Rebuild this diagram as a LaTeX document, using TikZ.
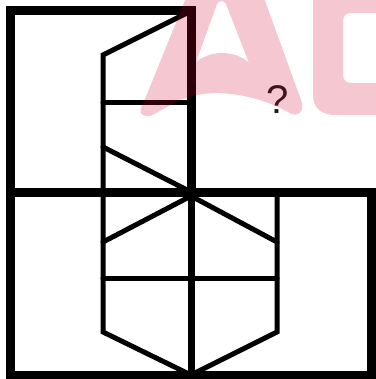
\documentclass[tikz,border=0pt]{standalone}
\usepackage{fontspec}
\setmainfont{Liberation Sans}
\tikzset{
  frame/.style={line width=9pt,line cap=rect},
  axis/.style={line width=7pt},
  edge/.style={line width=5pt,line cap=round,line join=miter},
  watermark/.style={fill={rgb,255:red,205;green,0;blue,45},fill opacity=0.22,even odd rule}
}
\begin{document}
\begin{tikzpicture}[x=1pt,y=-1pt]
  \useasboundingbox (0,0) rectangle (375,379);
  % key points of the figure
  \coordinate (tl) at (10,11);
  \coordinate (tr) at (191,11);
  \coordinate (ml) at (10,192);
  \coordinate (mm) at (191,192);
  \coordinate (mr) at (371,192);
  \coordinate (bl) at (10,375);
  \coordinate (bm) at (191,375);
  \coordinate (br) at (371,375);
  % upper left frame
  \draw[frame] (ml) -- (tl) -- (tr) -- (mm);
  % lower frame
  \draw[frame] (ml) -- (mr) -- (br) -- (bl) -- cycle;
  \draw[axis] (mm) -- (bm);
  % upper half of the figure
  \draw[edge] (tr) -- (103,55) -- (103,192);
  \draw[edge] (103,103) -- (191,103);
  \draw[edge] (103,147) -- (mm);
  % lower half of the figure
  \draw[edge] (103,192) -- (103,332) -- (bm) -- (277,332) -- (277,192);
  \draw[edge] (103,242) -- (191,196) -- (277,242);
  \draw[edge] (103,278) -- (277,278);
  \node[text=black!90,font=\fontsize{40}{40}\selectfont,inner sep=0pt] (qmark) at (278,100) {?};
  % watermark letters
  \fill[watermark]
     (150,116) .. controls (140,117) and (138,110) .. (143,104) -- (186,-2) -- (264,-2)
     -- (301,100) .. controls (306,113) and (296,118) .. (288,112)
     .. controls (262,98) and (225,88) .. (192,96) .. controls (172,102) and (160,112) .. (150,116) -- cycle
     (196,62) -- (217,4) .. controls (219,0) and (224,0) .. (226,4) -- (249,63)
     .. controls (238,52) and (214,48) .. (196,62) -- cycle;
  \fill[watermark]
     (313,-2) -- (313,95) .. controls (313,108) and (322,115) .. (335,115) -- (380,115) -- (380,-2) -- cycle
     (351,13) -- (380,13) -- (380,83) -- (351,83) .. controls (346,83) and (343,80) .. (343,75)
     -- (343,21) .. controls (343,16) and (346,13) .. (351,13) -- cycle;
\end{tikzpicture}
\end{document}
